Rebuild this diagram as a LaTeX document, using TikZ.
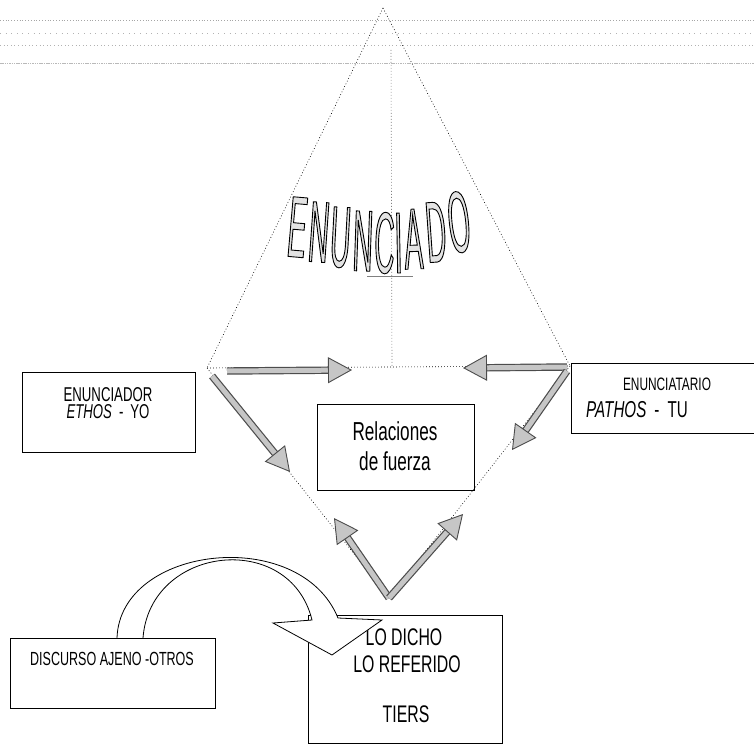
\documentclass[tikz,border=0pt]{standalone}
\usepackage{fontspec}
\setmainfont{Liberation Sans}
\newfontfamily\nsf[FakeStretch=0.66]{Liberation Sans}
\newfontfamily\wordart[FakeStretch=0.32]{Liberation Sans}
\usetikzlibrary{arrows.meta}
\newcommand{\outl}[1]{\textcolor{gray!22}{\special{pdf:literal direct 2 Tr 0.9 w 0 G}#1\special{pdf:literal direct 0 Tr}}}
\tikzset{
  box/.style={draw, line width=0.7pt, inner sep=0pt},
  txt/.style={anchor=base, inner sep=0pt, font=\nsf\fontsize{#1}{#1}\selectfont},
  dots/.style={dash pattern=on 0.8pt off 2.2pt, line width=0.6pt},
  fat/.style={line width=5pt, draw=gray!45,
    preaction={draw=black!70, line width=7.4pt, arrows=-, shorten >=20pt},
    -{Triangle[width=26pt,length=24pt,color=black!70,fill=gray!45,line width=0.9pt]}},
  curvearrow/.style={draw, line width=0.8pt, fill=white, line join=miter},
  letter/.style={anchor=base, inner sep=0pt, font=\wordart\fontsize{87}{87}\selectfont}
}
\begin{document}
\begin{tikzpicture}[x=1pt,y=-1pt]
\useasboundingbox (0,0) rectangle (754,751);

% scanned texture lines at top
\draw[gray!70, dash pattern=on 0.6pt off 2.2pt] (0,20) -- (754,20);
\draw[gray!60, dash pattern=on 0.6pt off 5pt] (0,33) -- (754,33);
\draw[gray!60, dash pattern=on 0.6pt off 3pt] (0,45) -- (754,45);
\draw[gray!55, line width=0.7pt, dash pattern=on 1.5pt off 0.8pt] (0,63) -- (754,63);

% key points
\coordinate (apex) at (383,8);
\coordinate (L) at (207,368);
\coordinate (R) at (570,366);
\coordinate (B) at (389,598);
\coordinate (vtop) at (391,50);
\coordinate (vbot) at (392,368);
\coordinate (t1) at (352,370);
\coordinate (t2) at (463,368);
\coordinate (t3) at (290,472);
\coordinate (t4) at (512,450);
\coordinate (t5) at (334,518);
\coordinate (t6) at (463,514);
\coordinate (s1) at (227,371);
\coordinate (s2) at (567,367);
\coordinate (s3) at (212,376);
\coordinate (s4) at (567,371);

% upper triangle and vertical
\draw[dots] (apex) -- (L);
\draw[dots] (apex) -- (R);
\draw[dots, gray] (vtop) -- (vbot);

% lower triangle (dotted)
\draw[dots] (L) -- (R);
\draw[dots] (L) -- (B);
\draw[dots] (R) -- (B);

% fat arrows
\draw[fat] (s1) -- (t1);
\draw[fat] (s2) -- (t2);
\draw[fat] (s3) -- (t3);
\draw[fat] (s4) -- (t4);
\draw[fat] (B) -- (t5);
\draw[fat] (B) -- (t6);

% ENUNCIADO word art
\foreach \ch/\x/\y/\a [count=\i] in {E/295/257/-5, N/317/262/-4, U/339/267/-3, N/362/271/-2, C/384/273/-1, I/399/273/1, A/414.5/269/2, D/438/262/4, O/462/252/6}{
  \node[letter, rotate=\a] (w\i) at (\x,\y) {\outl{\ch}};
}
\draw[gray, line width=0.6pt] (367,276) -- (413,276);

% boxes
\node[box, minimum width=173pt, minimum height=80pt] (yo) at (108.5,412) {};
\node[txt=20] (yo1) at (108,401.5) {ENUNCIADOR};
\node[txt=20] (yo2) at (108,418.5) {\textit{ETHOS} \,-\, YO};

\node[inner sep=0pt, minimum width=188pt, minimum height=69pt] (tu) at (666,398.5) {};
\draw[line width=0.7pt] (tu.north east) -- (tu.north west) -- (tu.south west) -- (tu.south east);
\node[txt=18] (tu1) at (667,390) {ENUNCIATARIO};
\node[txt=23] (tu2) at (637,417) {\textit{PATHOS} \,-\, TU};

\node[box, minimum width=157pt, minimum height=86pt] (rel) at (395.5,447) {};
\node[txt=26] (rel1) at (395,440) {Relaciones};
\node[txt=26] (rel2) at (395,470) {de fuerza};

\node[box, minimum width=194pt, minimum height=128pt] (tiers) at (405,679) {};
\node[txt=24] (ti1) at (404,645) {LO DICHO};
\node[txt=24] (ti2) at (407,672) {LO REFERIDO};
\node[txt=24] (ti3) at (406,722) {TIERS};

% curved block arrow from DISCURSO AJENO to LO DICHO
\coordinate (ca1) at (117,638);
\coordinate (ca2) at (338,618);
\coordinate (ca3) at (382,620);
\coordinate (ca4) at (332,655);
\coordinate (ca5) at (273,623);
\coordinate (ca6) at (312,620);
\coordinate (ca7) at (143,638);
\draw[curvearrow] (ca1) .. controls (120,545) and (300,525) .. (ca2) -- (ca3) -- (ca4) -- (ca5) -- (ca6) .. controls (290,530) and (150,545) .. (ca7);

\node[box, fill=white, minimum width=205pt, minimum height=70pt] (disc) at (112.5,673) {};
\node[txt=19] (disc1) at (112,665) {DISCURSO AJENO -OTROS};
\end{tikzpicture}
\end{document}
